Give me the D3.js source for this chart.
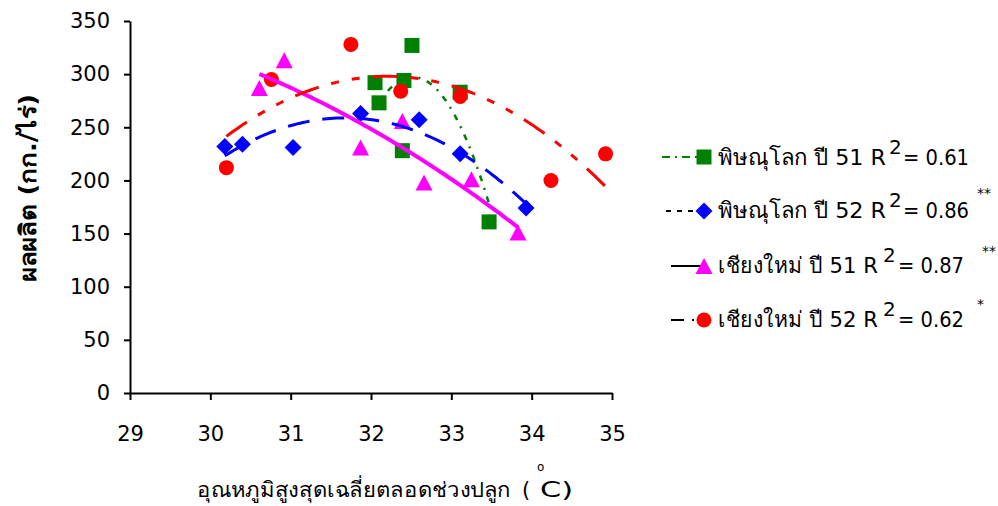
<!DOCTYPE html>
<html><head><meta charset="utf-8">
<script src="https://cdn.jsdelivr.net/npm/d3@7"></script>
<style>
body{margin:0;background:#fff}
svg{display:block}
text{font-family:"DejaVu Sans", "Noto Sans", sans-serif; fill:#000}
</style>
</head><body>
<svg id="c" width="998" height="506"></svg>
<script>
// ---- data ----
const xTicks = [29, 30, 31, 32, 33, 34, 35];
const yTicks = [0, 50, 100, 150, 200, 250, 300, 350];

const phit51X = [32.05, 32.10, 32.39, 32.41, 32.51, 33.11, 33.47];
const phit51Y = [292, 273, 228, 294, 327, 283, 161];
const phit52X = [30.18, 30.40, 31.03, 31.87, 32.60, 33.11, 33.93];
const phit52Y = [232, 234, 231, 263, 257, 225, 174];
const chiang51X = [30.61, 30.92, 31.87, 32.39, 32.66, 33.25, 33.83];
const chiang51Y = [287, 313, 231, 256, 198, 201, 151];
const chiang52X = [30.20, 30.76, 31.75, 32.37, 33.11, 34.24, 34.92];
const chiang52Y = [212, 295, 328, 284, 279, 200, 225];

const seriesNames = ["พิษณุโลก ปี 51 R", "พิษณุโลก ปี 52 R", "เชียงใหม่ ปี 51 R", "เชียงใหม่ ปี 52 R"];
const r2Labels = ["= 0.61", "= 0.86", "= 0.87", "= 0.62"];
const sigLabels = ["", "**", "**", "*"];
const xTitle = "อุณหภูมิสูงสุดเฉลี่ยตลอดช่วงปลูก";
const yTitle = "ผลผลิต (กก./ไร่)";

// ---- styles ----
const series = [
  {xs: phit51X, ys: phit51Y, color: "#008000", shape: "square",   dash: "6,7,2,7",  w: 2.5, lColor: "#008000", lDash: "8,5,2,5", lx0: 662},
  {xs: phit52X, ys: phit52Y, color: "#0000FF", shape: "diamond",  dash: "22,13",    w: 3,   lColor: "#000",    lDash: "5,6",     lx0: 666},
  {xs: chiang51X, ys: chiang51Y, color: "#FF00FF", shape: "triangle", dash: null,   w: 4,   lColor: "#000",    lDash: null,      lx0: 671},
  {xs: chiang52X, ys: chiang52Y, color: "#FF0000", shape: "circle", dash: "25,13,8,13,8,13", w: 3, lColor: "#000", lDash: "13,8,2,30", lx0: 671}
];
// legend layout
const legY = [157, 211, 266, 320];
const baseY = [165, 218, 273, 327];
const nameW = [168, 168, 160, 160];
const supX = [889, 889, 883, 883];
const eqX = [903, 903, 898, 898];
const astX = [0, 977, 982, 977];
const astDy = [0, 20, 17, 18];

const shapes = {
  square: "M-7.5,-7.5h15v15h-15z",
  diamond: "M0,-8.5L8.5,0L0,8.5L-8.5,0Z",
  triangle: "M0,-8L8.5,8H-8.5Z",
  circle: d3.symbol(d3.symbolCircle, Math.PI * 7.5 * 7.5)()
};

const svg = d3.select("#c");
const x = d3.scaleLinear().domain([29, 35]).range([130, 612]);
const y = d3.scaleLinear().domain([0, 350]).range([393, 21]);

// axes
const yAxis = svg.append("g").attr("transform", "translate(130,0)")
  .call(d3.axisLeft(y).tickValues(yTicks).tickFormat(d3.format("d")).tickSize(6).tickSizeOuter(0).tickPadding(14));
const xAxis = svg.append("g").attr("transform", "translate(0,393)")
  .call(d3.axisBottom(x).tickValues(xTicks).tickFormat(d3.format("d")).tickSize(7).tickSizeOuter(0).tickPadding(26));
[yAxis, xAxis].forEach(g => {
  g.selectAll("path,line").attr("stroke", "#000").attr("stroke-width", 2);
  g.selectAll("text").attr("font-size", 21).attr("font-family", "DejaVu Sans").attr("fill", "#000");
});

// quadratic least-squares trendline (as in the original polynomial trendlines)
function quadFit(xs, ys) {
  const mx = d3.mean(xs);
  const s = [0, 0, 0, 0, 0], t = [0, 0, 0];
  xs.forEach((xv, i) => {
    const u = xv - mx;
    let p = 1;
    for (let k = 0; k < 5; k++) { s[k] += p; p *= u; }
    t[0] += ys[i]; t[1] += ys[i] * u; t[2] += ys[i] * u * u;
  });
  const M = [[s[0], s[1], s[2]], [s[1], s[2], s[3]], [s[2], s[3], s[4]]];
  const det = m => m[0][0]*(m[1][1]*m[2][2]-m[1][2]*m[2][1]) - m[0][1]*(m[1][0]*m[2][2]-m[1][2]*m[2][0]) + m[0][2]*(m[1][0]*m[2][1]-m[1][1]*m[2][0]);
  const D = det(M);
  const col = (j) => M.map((r, i) => r.map((v, k) => k === j ? t[i] : v));
  const a = det(col(0)) / D, b = det(col(1)) / D, c = det(col(2)) / D;
  return xv => { const u = xv - mx; return a + b * u + c * u * u; };
}

// markers
const gMarks = svg.append("g");
series.forEach(s => {
  gMarks.selectAll(null).data(s.xs.map((xv, i) => [xv, s.ys[i]])).enter()
    .append("path")
    .attr("d", shapes[s.shape])
    .attr("transform", d => `translate(${x(d[0])},${y(d[1])})`)
    .attr("fill", s.color);
});

// trendlines
const line = d3.line().x(d => x(d[0])).y(d => y(d[1]));
series.forEach(s => {
  const f = quadFit(s.xs, s.ys);
  const [lo, hi] = d3.extent(s.xs);
  const pts = d3.range(0, 101).map(i => { const xv = lo + (hi - lo) * i / 100; return [xv, f(xv)]; });
  svg.append("path").attr("d", line(pts)).attr("fill", "none")
    .attr("stroke", s.color).attr("stroke-width", s.w)
    .attr("stroke-dasharray", s.dash);
});

// legend
series.forEach((s, i) => {
  const g = svg.append("g");
  g.append("line").attr("x1", s.lx0).attr("x2", 703).attr("y1", legY[i]).attr("y2", legY[i])
    .attr("stroke", s.lColor).attr("stroke-width", 2).attr("stroke-dasharray", s.lDash);
  g.append("path").attr("d", shapes[s.shape]).attr("transform", `translate(704,${legY[i]})`).attr("fill", s.color);
  g.append("text").attr("x", 718).attr("y", baseY[i]).attr("font-size", 22)
    .attr("textLength", nameW[i]).attr("lengthAdjust", "spacingAndGlyphs").text(seriesNames[i]);
  g.append("text").attr("x", supX[i]).attr("y", baseY[i] - 11).attr("font-size", 20).text("2");
  g.append("text").attr("x", eqX[i]).attr("y", baseY[i]).attr("font-size", 22)
    .attr("textLength", 66).attr("lengthAdjust", "spacingAndGlyphs").text(r2Labels[i]);
  if (sigLabels[i]) {
    g.append("text").attr("x", astX[i]).attr("y", baseY[i] - astDy[i]).attr("font-size", 14).text(sigLabels[i]);
  }
});

// titles
svg.append("text").attr("x", 197).attr("y", 497).attr("font-size", 21)
  .attr("textLength", 314).attr("lengthAdjust", "spacingAndGlyphs").text(xTitle);
svg.append("text").attr("x", 522).attr("y", 497).attr("font-size", 21).text("(");
svg.append("text").attr("x", 537).attr("y", 471).attr("font-size", 12).text("o");
svg.append("text").attr("x", 540).attr("y", 497).attr("font-size", 21)
  .attr("textLength", 33).attr("lengthAdjust", "spacingAndGlyphs").text("C)");

svg.append("text").attr("transform", "translate(36,188) rotate(-90)")
  .attr("text-anchor", "middle").attr("font-size", 23).attr("font-weight", "bold")
  .attr("textLength", 188).attr("lengthAdjust", "spacingAndGlyphs").text(yTitle);
</script>
</body></html>
